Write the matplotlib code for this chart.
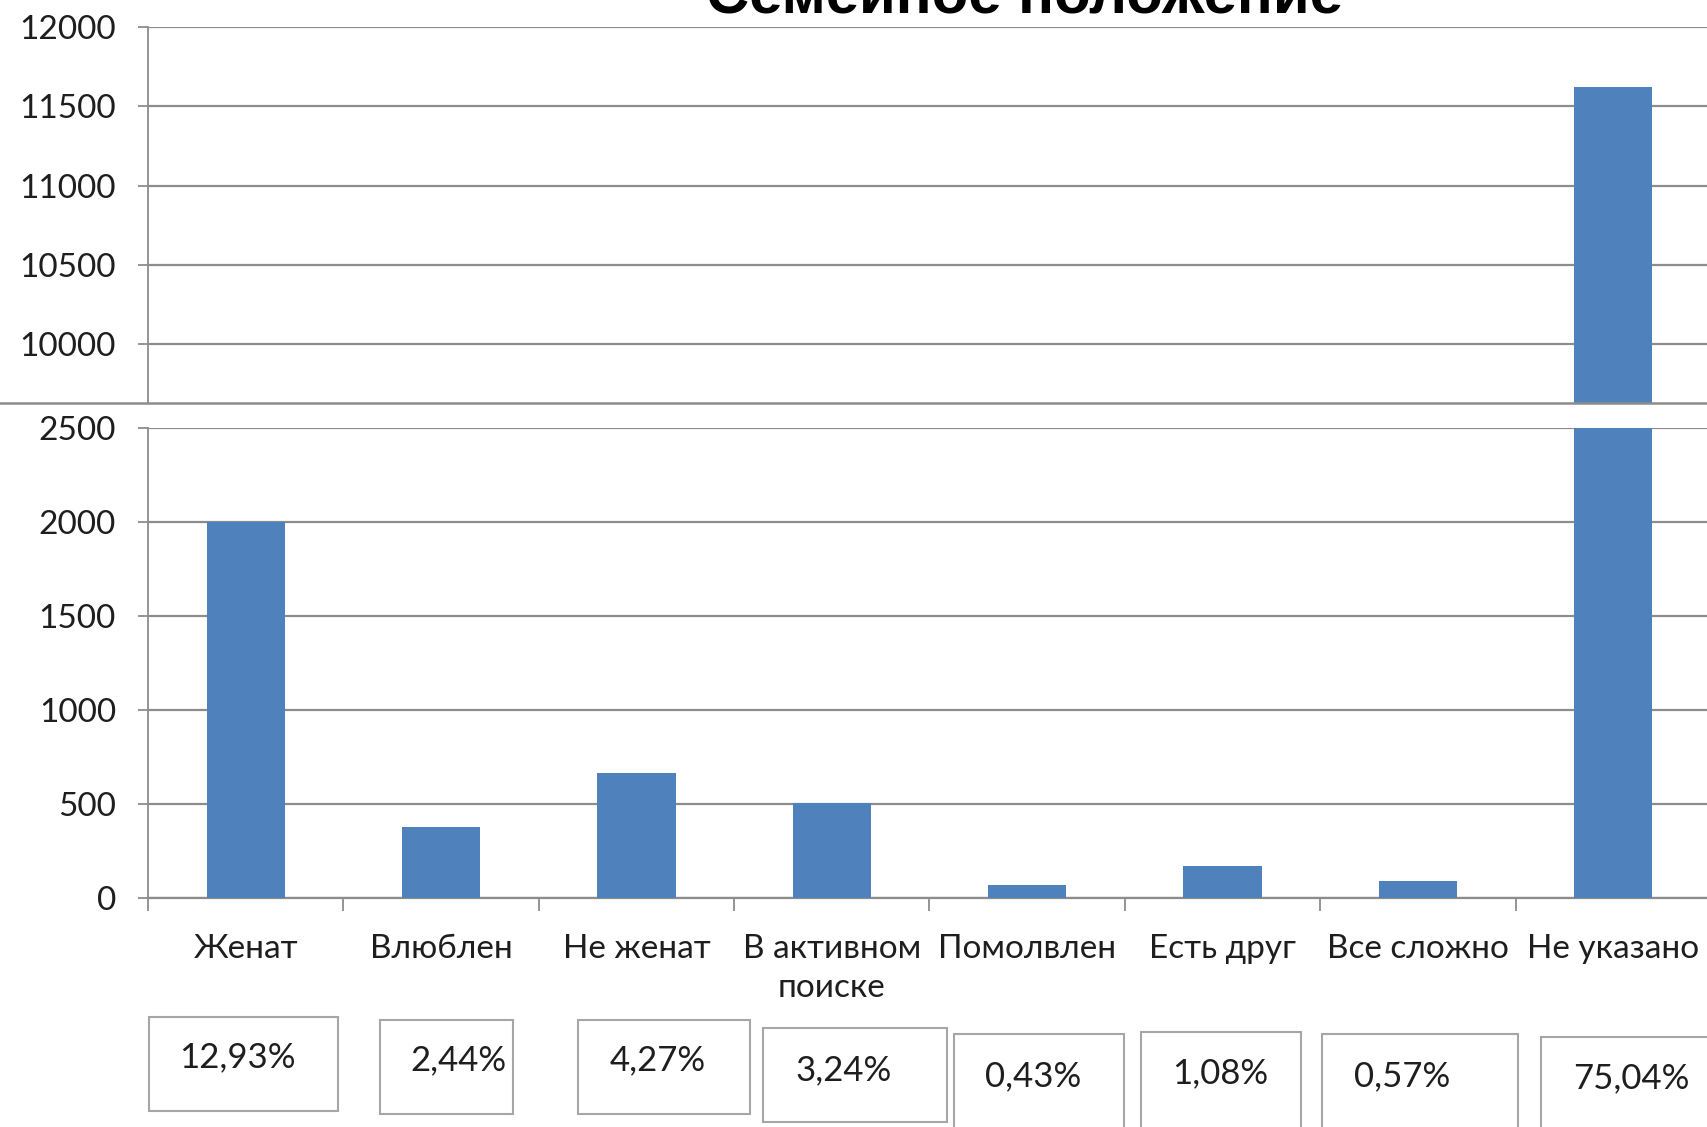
import numpy as np
import matplotlib
matplotlib.use("Agg")
import matplotlib.pyplot as plt
from matplotlib.patches import Rectangle
from matplotlib.lines import Line2D
import matplotlib.transforms as mtransforms

# --- Daten ---
categories = ["Женат", "Влюблен", "Не женат", "В активном\nпоиске",
              "Помолвлен", "Есть друг", "Все сложно", "Не указано"]
counts = [2002, 378, 662, 502, 67, 167, 88, 11625]
percent_labels = ["12,93%", "2,44%", "4,27%", "3,24%",
                  "0,43%", "1,08%", "0,57%", "75,04%"]
title = "Семейное положение"

top_ticks = [10000, 10500, 11000, 11500, 12000]
bottom_ticks = [0, 500, 1000, 1500, 2000, 2500]

# --- Layout (Pixel der Vorlage 1708x1127) ---
W, H = 1708, 1127
BAR_COLOR = "#4F81BD"
GRID_COLOR = "#8C8C8C"
TEXT_COLOR = "#1E1E1E"
FONT = ["Lato", "DejaVu Sans"]

# Kästchen unter den Kategorien: (x-Versatz, Breite) in Kategorie-Einheiten, y oben/unten in Pixel
box_dx = [-0.01, 0.03, 0.14, 0.12, 0.06, -0.01, 0.01, 0.09]
box_w = [0.97, 0.68, 0.88, 0.94, 0.87, 0.82, 1.00, 0.92]
box_top = [1017, 1020, 1020, 1028, 1034, 1032, 1034, 1037]
box_bot = [1111, 1114, 1114, 1122, 1132, 1132, 1132, 1132]
text_dx = [-0.03, 0.06, -0.03, -0.06, -0.03, 0.0, -0.09, 0.0]
text_y = [1057, 1060, 1060, 1070, 1076, 1073, 1076, 1078]

plt.rcParams["font.family"] = FONT

fig = plt.figure(figsize=(W / 100, H / 100), dpi=100)
fig.patch.set_facecolor("white")

left = 148 / W
right = 1711 / W
ax_top = fig.add_axes([left, 1 - 403 / H, right - left, (403 - 27.2) / H])
ax_bot = fig.add_axes([left, 1 - 897.6 / H, right - left, (897.6 - 428) / H])

x = np.arange(len(categories))
for ax in (ax_top, ax_bot):
    ax.bar(x, counts, width=0.4, color=BAR_COLOR, zorder=3)
    ax.set_xlim(-0.5, len(categories) - 0.5)
    ax.grid(axis="y", color=GRID_COLOR, linewidth=1.6, zorder=0)
    ax.set_axisbelow(True)
    for s in ("top", "right"):
        ax.spines[s].set_visible(False)
    ax.spines["left"].set_color(GRID_COLOR)
    ax.spines["left"].set_linewidth(1.3)
    ax.tick_params(axis="y", length=7, width=1.3, color=GRID_COLOR,
                   labelsize=24, labelcolor=TEXT_COLOR, pad=16)

ax_top.set_ylim(9629, 12000)
ax_top.set_yticks(top_ticks)
ax_top.spines["bottom"].set_visible(False)
ax_top.set_xticks([])

ax_bot.set_ylim(0, 2500)
ax_bot.set_yticks(bottom_ticks)
ax_bot.spines["bottom"].set_color(GRID_COLOR)
ax_bot.spines["bottom"].set_linewidth(1.6)
ax_bot.set_xticks(np.arange(len(categories) + 1) - 0.5)
ax_bot.set_xticklabels([])
ax_bot.tick_params(axis="x", which="major", length=9, width=1.3, color=GRID_COLOR)
ax_bot.set_xticks(x, minor=True)
ax_bot.set_xticklabels(categories, minor=True)
ax_bot.tick_params(axis="x", which="minor", length=0, pad=26, labelsize=24,
                   labelcolor=TEXT_COLOR)
for lab in ax_bot.get_xticklabels(minor=True):
    lab.set_linespacing(1.4)

# Trennlinie über die ganze Breite
fig.add_artist(Line2D([0, 1], [1 - 403 / H, 1 - 403 / H], transform=fig.transFigure,
                      color=GRID_COLOR, linewidth=1.8))

# Titel (oben abgeschnitten, wie in der Vorlage)
fig.text(1024 / W, 1 - 14 / H, title, ha="center", va="baseline",
         fontsize=43, fontweight="bold", color="black",
         family=["Liberation Sans", "DejaVu Sans"])

# Prozent-Kästchen
trans = mtransforms.blended_transform_factory(ax_bot.transData, fig.transFigure)
for i, lab in enumerate(percent_labels):
    cx = x[i] + box_dx[i]
    y0 = 1 - box_bot[i] / H
    y1 = 1 - box_top[i] / H
    rect = Rectangle((cx - box_w[i] / 2, y0), box_w[i], y1 - y0, transform=trans,
                     facecolor="white", edgecolor="#A6A6A6", linewidth=1.5,
                     clip_on=False)
    fig.add_artist(rect)
    fig.text(0, 0, lab, transform=trans, ha="center", va="center",
             fontsize=25, color=TEXT_COLOR).set_position((cx + text_dx[i], 1 - text_y[i] / H))

fig.savefig("out.png", dpi=100, facecolor="white")
